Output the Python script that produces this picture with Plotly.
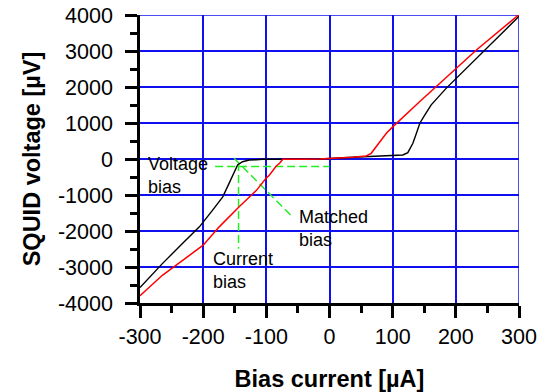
import plotly.graph_objects as go

# Black curve (measured SQUID V-I)
black_x = [-300, -264.6, -232.8, -206, -185, -169, -159, -151, -145.5, -137.6, -127, -116, -106, -79, -40, -16,
           37, 100.5, 116, 124, 132, 137.6, 143, 151, 161, 185, 201, 249, 300]
black_y = [-3570, -2906, -2349, -1885, -1420, -1050, -677, -353, -167, -75, -28, -20, -8, -5, -2, 0,
           47, 84, 111, 176, 437, 716, 994, 1226, 1504, 1969, 2248, 3084, 3964]

# Red curve
red_x = [-300, -264.6, -200, -174.6, -143, -116, -100.5, -95, -84.6, -79, -74, -71, -40, -16, 0,
         37, 58, 66, 90, 100.5, 143, 200, 233, 300]
red_y = [-3800, -3231, -2395, -1885, -1328, -878, -538, -446, -200, -120, -10, -8, -4, 0, 10,
         47, 84, 158, 716, 900, 1597, 2498, 3036, 4011]

# Green guide lines
hline_x = [-181, 0]
hline_y = [-210, -210]
vline_x = [-144, -144]
vline_y = [-110, -2490]
diag_x = [-151, -59]
diag_y = [20, -1600]

x_ticks = [-300, -200, -100, 0, 100, 200, 300]
x_labels = ["-300", "-200", "-100", "0", "100", "200", "300"]
y_ticks = [-4000, -3000, -2000, -1000, 0, 1000, 2000, 3000, 4000]
y_labels = ["-4000", "-3000", "-2000", "-1000", "0", "1000", "2000", "3000", "4000"]

annot_text = ["Voltage<br>bias", "Matched<br>bias", "Current<br>bias"]
annot_x = [-290, -52, -187]
annot_y = [-450, -1920, -3090]

FONT = "Liberation Sans, Arial, sans-serif"
GREEN = "#22ee22"
BLUE = "#1010ee"

fig = go.Figure()
dash = "8px,4px"
fig.add_trace(go.Scatter(x=hline_x, y=hline_y, mode="lines",
                         line=dict(color=GREEN, width=1.5, dash=dash), hoverinfo="skip"))
fig.add_trace(go.Scatter(x=vline_x, y=vline_y, mode="lines",
                         line=dict(color=GREEN, width=1.5, dash=dash), hoverinfo="skip"))
fig.add_trace(go.Scatter(x=diag_x, y=diag_y, mode="lines",
                         line=dict(color=GREEN, width=1.5, dash=dash), hoverinfo="skip"))
fig.add_trace(go.Scatter(x=black_x, y=black_y, mode="lines",
                         line=dict(color="black", width=1.4)))
fig.add_trace(go.Scatter(x=red_x, y=red_y, mode="lines",
                         line=dict(color="#ff0000", width=1.5)))

for t, ax_, ay_ in zip(annot_text, annot_x, annot_y):
    fig.add_annotation(x=ax_, y=ay_, text=t, showarrow=False, xanchor="left", yanchor="middle",
                       align="left", font=dict(family=FONT, size=18, color="black"))

# blue borders at top and right (gridlines at range ends)
fig.add_shape(type="line", xref="paper", yref="y", x0=0, x1=1, y0=4000, y1=4000,
              line=dict(color=BLUE, width=1.5), layer="below")
fig.add_shape(type="line", xref="x", yref="paper", x0=300, x1=300, y0=0, y1=1,
              line=dict(color=BLUE, width=1.5), layer="below")

fig.update_layout(
    width=549, height=392,
    margin=dict(l=140, r=30, t=15, b=89),
    paper_bgcolor="white", plot_bgcolor="white",
    showlegend=False,
    font=dict(family=FONT, color="black"),
    xaxis=dict(range=[-300, 300], tickvals=x_ticks, ticktext=x_labels, automargin=False,
               showgrid=True, gridcolor=BLUE, gridwidth=1.5, zeroline=False,
               showline=True, linecolor="black", linewidth=2.5,
               ticks="outside", ticklen=12, tickwidth=2.5, tickcolor="black",
               tickfont=dict(family=FONT, size=21.5),
               minor=dict(dtick=50, tick0=0, ticks="outside", ticklen=7, tickwidth=2.5,
                          tickcolor="black", showgrid=False),
               title=dict(text="<b>Bias current [µA]</b>", font=dict(family=FONT, size=23.5),
                          standoff=26)),
    yaxis=dict(range=[-4000, 4000], tickvals=y_ticks, ticktext=y_labels, automargin=False,
               showgrid=True, gridcolor=BLUE, gridwidth=1.5, zeroline=False,
               showline=True, linecolor="black", linewidth=2.5,
               ticks="outside", ticklen=12, tickwidth=2.5, tickcolor="black",
               tickfont=dict(family=FONT, size=21.5), ticklabelstandoff=8,
               minor=dict(dtick=500, tick0=0, ticks="outside", ticklen=7, tickwidth=2.5,
                          tickcolor="black", showgrid=False),
               title=dict(text="<b>SQUID voltage [µV]</b>", font=dict(family=FONT, size=23.5),
                          standoff=11)),
)

fig.write_html("out.html", config={"displayModeBar": False},
               post_script="document.body.style.margin='0';document.body.style.overflow='hidden';")
